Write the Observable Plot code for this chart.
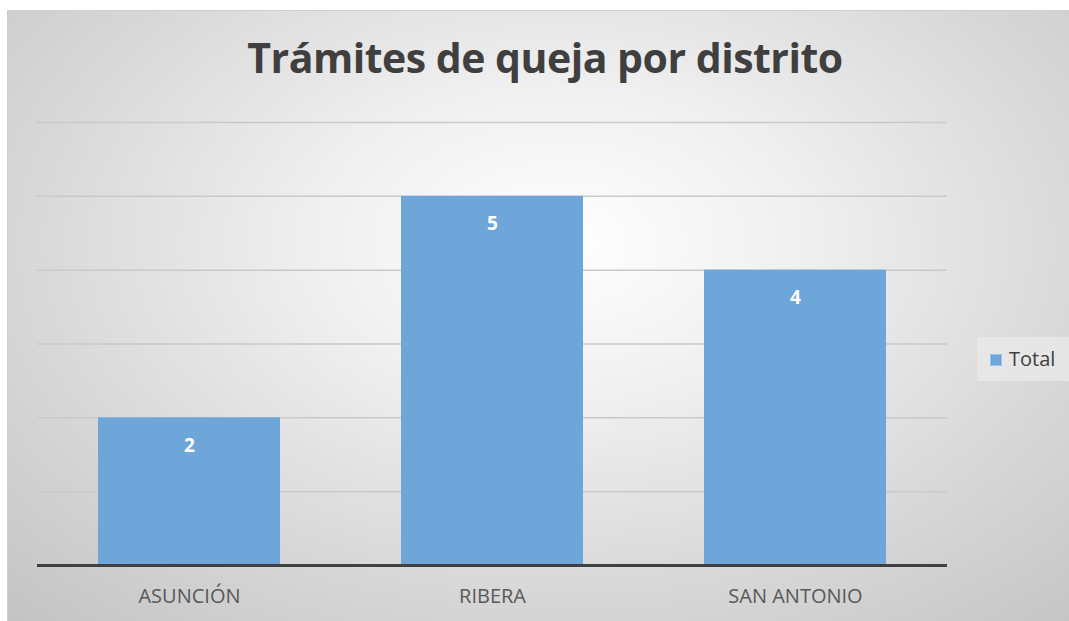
<!DOCTYPE html>
<html><head><meta charset="utf-8">
<script src="https://cdn.jsdelivr.net/npm/d3@7"></script>
<script src="https://cdn.jsdelivr.net/npm/@observablehq/plot@0.6"></script>
<style>
html,body{margin:0;padding:0;background:#fff;}
#wrap{position:relative;width:1069px;height:621px;overflow:hidden;font-family:"Open Sans",sans-serif;}
#frame{position:absolute;left:7px;top:10px;width:1062px;height:611px;box-sizing:border-box;border:1px solid #cfcfcf;border-right:none;border-bottom:none;
background:radial-gradient(ellipse 75% 85% at 52% 38%, #ffffff 0%, #f0f0f0 30%, #d9d9d9 65%, #c4c4c4 100%);}
#title{position:absolute;left:0;width:1090px;top:29px;text-align:center;font-family:"Open Sans",sans-serif;font-weight:700;font-size:41px;color:#3f3f3f;letter-spacing:-0.5px;}
#legend{position:absolute;left:977px;top:337px;width:92px;height:44px;background:rgba(235,235,235,0.7);}
#legend .sw{position:absolute;left:13px;top:17px;width:10px;height:10px;background:#6fa6da;border:1px solid #9cc3e8;}
#legend .lb{position:absolute;left:32px;top:8px;font-size:20px;color:#404040;}
#plot{position:absolute;left:0;top:0;}
</style></head>
<body><div id="wrap"><div id="frame"></div><div id="title">Trámites de queja por distrito</div>
<div id="legend"><div class="sw"></div><div class="lb">Total</div></div>
<div id="plot"></div></div>
<script>
const categories = ["ASUNCIÓN", "RIBERA", "SAN ANTONIO"];
const totals = [2, 5, 4];
const gridTicks = [1, 2, 3, 4, 5, 6];
const data = categories.map((c, i) => ({distrito: c, total: totals[i]}));
const chart = Plot.plot({
  width: 1069, height: 621,
  marginLeft: 37, marginRight: 122, marginTop: 122, marginBottom: 56,
  style: {background: "transparent", fontFamily: "Open Sans, sans-serif"},
  x: {domain: categories, paddingInner: 0.4, paddingOuter: 0.2, label: null},
  y: {domain: [0, 6], label: null, axis: null},
  marks: [
    Plot.ruleY(gridTicks, {stroke: "#c9c9c9", strokeWidth: 1.5}),
    Plot.barY(data, {x: "distrito", y: "total", fill: "#6fa6da"}),
    Plot.ruleY([0], {stroke: "#404040", strokeWidth: 3}),
    Plot.text(data, {x: "distrito", y: "total", text: d => String(d.total), dy: 28, fill: "white", fontWeight: "bold", fontSize: 19}),
    Plot.axisX({tickSize: 0, tickPadding: 23, fontSize: 20, color: "#595959", fill: "#595959"})
  ]
});
document.getElementById("plot").appendChild(chart);
</script></body></html>
